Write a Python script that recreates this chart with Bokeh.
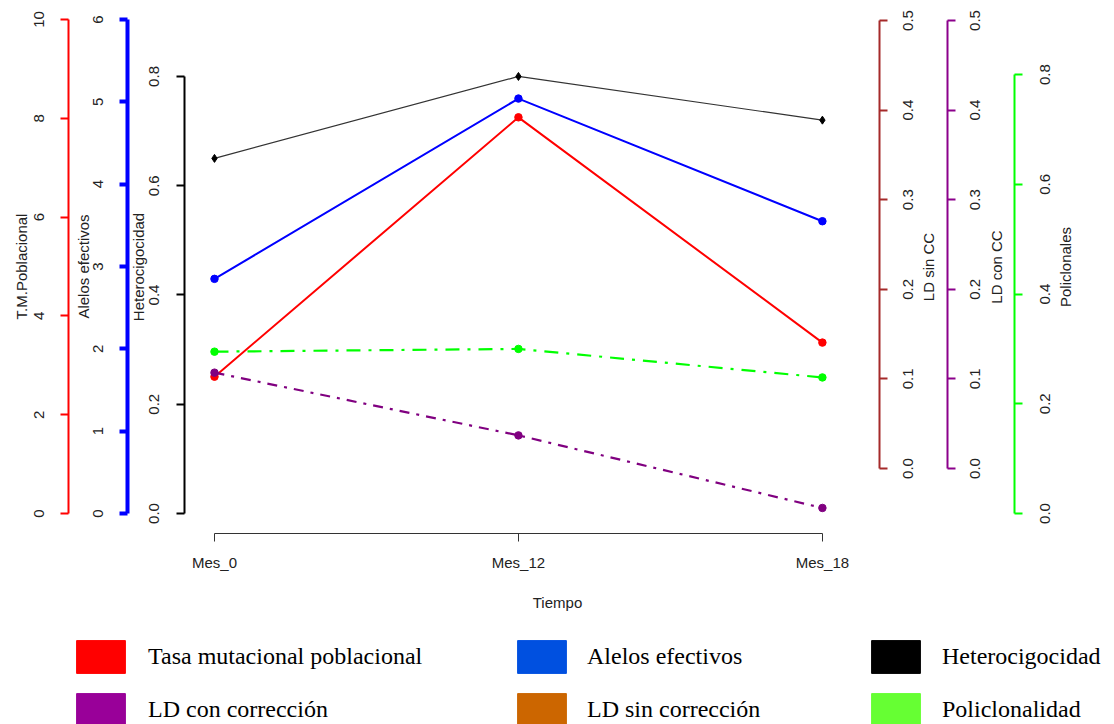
import math
from bokeh.plotting import figure
from bokeh.core.properties import value
from bokeh.models import (Range1d, LinearAxis, FixedTicker, Legend, LegendItem,
                          PrintfTickFormatter, Label)
from bokeh.layouts import column
from bokeh.embed import file_html
from bokeh.resources import INLINE

# ---------------- data ----------------
meses = ["Mes_0", "Mes_12", "Mes_18"]
mes_pos = [0, 1, 2]
tasa_mutacional = [2.77, 8.02, 3.46]
alelos_efectivos = [2.85, 5.04, 3.55]
heterocigocidad = [0.65, 0.80, 0.72]
policlonalidad = [0.295, 0.30, 0.248]
ld_con_correccion = [0.107, 0.037, -0.044]

tm_ticks = [0, 2, 4, 6, 8, 10]
alelos_ticks = [0, 1, 2, 3, 4, 5, 6]
het_ticks = [0.0, 0.2, 0.4, 0.6, 0.8]
ld_ticks = [0.0, 0.1, 0.2, 0.3, 0.4, 0.5]
poli_ticks = [0.0, 0.2, 0.4, 0.6, 0.8]

legend_labels = ["Tasa mutacional poblacional", "LD con corrección",
                 "Alelos efectivos", "LD sin corrección",
                 "Heterocigocidad", "Policlonalidad"]
legend_colors = ["#FF0000", "#990099", "#0050E0", "#CC6600", "#000000", "#66FF33"]

SANS = "Liberation Sans"
FS = "15px"

p = figure(width=1114, height=620, output_backend="svg", toolbar_location=None,
           x_range=Range1d(-0.704, 2.961), y_range=Range1d(-0.0366, 0.939),
           y_axis_location=None, min_border_left=0, min_border_right=0,
           min_border_top=0, min_border_bottom=87, outline_line_color=None)
p.extra_y_ranges = {
    "tm": Range1d(-0.405, 10.385),
    "alelos": Range1d(-0.243, 6.231),
    "ld": Range1d(-0.0725, 0.5223),
    "poli": Range1d(-0.0364, 0.935),
}
for g in p.grid:
    g.visible = False

# x axis
xa = p.xaxis[0]
xa.ticker = FixedTicker(ticks=mes_pos)
xa.major_label_overrides = {i: m for i, m in zip(mes_pos, meses)}
xa.bounds = (0, 2)
xa.minor_tick_line_color = None
xa.axis_line_color = "#333333"
xa.major_tick_line_color = "#333333"
xa.major_tick_out = 8
xa.major_tick_in = 0
xa.major_label_standoff = 12
xa.major_label_text_font = SANS
xa.major_label_text_font_size = FS
xa.major_label_text_color = "#222222"
xa.axis_label = "Tiempo"
xa.axis_label_text_font = SANS
xa.axis_label_text_font_size = FS
xa.axis_label_text_font_style = "normal"
xa.axis_label_text_color = "#222222"
xa.axis_label_standoff = 20

ymid = (p.y_range.start + p.y_range.end) / 2


def add_yaxis(side, rname, loc, ticks, fmt, color, lw, label, lstand, mstand,
              title_as_label=False, title_offset=0):
    ax = LinearAxis(y_range_name=rname, fixed_location=loc,
                    bounds=(ticks[0], ticks[-1]),
                    ticker=FixedTicker(ticks=ticks),
                    formatter=PrintfTickFormatter(format=fmt))
    if not title_as_label:
        ax.axis_label = label
    ax.axis_line_color = color
    ax.axis_line_width = lw
    ax.major_tick_line_color = color
    ax.major_tick_line_width = lw
    ax.major_tick_out = 8
    ax.major_tick_in = 0
    ax.minor_tick_line_color = None
    ax.major_label_text_font = SANS
    ax.major_label_text_font_size = FS
    ax.major_label_text_color = "#222222"
    ax.axis_label_text_font = SANS
    ax.axis_label_text_font_size = FS
    ax.axis_label_text_font_style = "normal"
    ax.axis_label_text_color = "#222222"
    ax.axis_label_standoff = lstand
    if side == "left":
        ax.major_label_orientation = "parallel"
        ax.major_label_standoff = int(mstand)
    else:
        # right-side tick labels read upwards (as on the left), centred on ticks
        ax.major_label_text_color = None
        p.text(x=[loc] * len(ticks), y=ticks, text=[fmt % t for t in ticks],
               y_range_name=rname, angle=math.pi / 2, x_offset=mstand,
               text_align="center", text_baseline="middle",
               text_font=value(SANS), text_font_size=value(FS), text_color="#222222")
    p.add_layout(ax, side)
    if title_as_label:
        # axis title centred on the plotting region, reading upwards
        p.add_layout(Label(x=loc, y=ymid, text=label, angle=math.pi / 2,
                           x_offset=title_offset, text_align="center",
                           text_baseline="middle", text_font=SANS,
                           text_font_size=FS, text_color="#222222"))
    return ax


add_yaxis("left", "tm", -0.480, tm_ticks, "%d", "#FF0000", 2, "T.M.Poblacional", 1, 17)
add_yaxis("left", "alelos", -0.286, alelos_ticks, "%d", "#0000FF", 4, "Alelos efectivos", -2, 17)
add_yaxis("left", "default", -0.0987, het_ticks, "%.1f", "#000000", 2, "Heterocigocidad", 0, 17,
          True, -46)
add_yaxis("right", "ld", 2.189, ld_ticks, "%.1f", "#A52A2A", 2, "LD sin CC", 0, 28.5, True, 49)
add_yaxis("right", "ld", 2.411, ld_ticks, "%.1f", "#8B008B", 2, "LD con CC", 0, 28, True, 49)
add_yaxis("right", "poli", 2.632, poli_ticks, "%.1f", "#00FF00", 2, "Policlonales", 0, 31, True, 51)

# series
p.line(mes_pos, heterocigocidad, line_color="#333333", line_width=1.2)
p.scatter(mes_pos, heterocigocidad, marker="diamond", size=8, color="#000000")

p.line(mes_pos, alelos_efectivos, y_range_name="alelos", line_color="#0000FF", line_width=2)
p.scatter(mes_pos, alelos_efectivos, y_range_name="alelos", size=7.5, color="#0000FF")

p.line(mes_pos, tasa_mutacional, y_range_name="tm", line_color="#FF0000", line_width=2)
p.scatter(mes_pos, tasa_mutacional, y_range_name="tm", size=7.5, color="#FF0000")

p.line(mes_pos, policlonalidad, y_range_name="poli", line_color="#00FF00", line_width=2.2,
       line_dash="14 8 3 8")
p.scatter(mes_pos, policlonalidad, y_range_name="poli", size=7.5, color="#00FF00")

p.line(mes_pos, ld_con_correccion, y_range_name="ld", line_color="#800080", line_width=2.2,
       line_dash="10 7 3 7")
p.scatter(mes_pos, ld_con_correccion, y_range_name="ld", size=7.5, color="#800080")

# ---------------- legend figure ----------------
q = figure(width=1114, height=104, output_backend="svg", toolbar_location=None,
           x_axis_location=None, y_axis_location=None,
           x_range=Range1d(0, 1), y_range=Range1d(0, 1), min_border=0,
           outline_line_color=None)
for g in q.grid:
    g.visible = False

# legend swatch renderers: one point each, placed outside the visible range
rends = []
for c in legend_colors:
    rends.append(q.rect(x=[-5], y=[-5], width=1, height=1, fill_color=c, line_color=c))

cols_x = [70, 511, 865]
standoffs = [17, 15, 16]
for i in range(3):
    items = [LegendItem(label=legend_labels[2 * i], renderers=[rends[2 * i]]),
             LegendItem(label=legend_labels[2 * i + 1], renderers=[rends[2 * i + 1]])]
    leg = Legend(items=items, location=(cols_x[i], -6), orientation="vertical",
                 glyph_width=61, glyph_height=41, label_height=41,
                 label_standoff=standoffs[i], spacing=12, padding=0, margin=0,
                 border_line_alpha=0, background_fill_alpha=0,
                 label_text_font="Liberation Serif", label_text_font_size="24px",
                 label_text_color="#000000")
    q.add_layout(leg)

layout = column(p, q)
open("out.html", "w").write(file_html(layout, INLINE))
